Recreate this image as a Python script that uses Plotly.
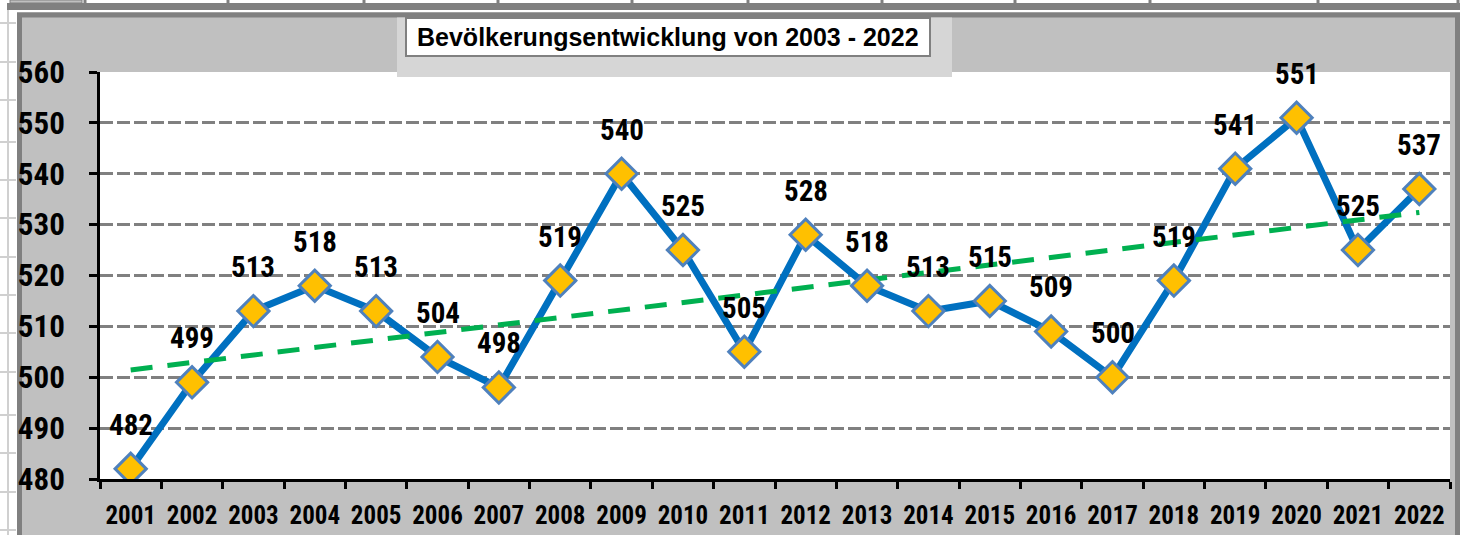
import numpy as np
import plotly.graph_objects as go

years = [str(y) for y in range(2001, 2023)]
population = [482, 499, 513, 518, 513, 504, 498, 519, 540, 525, 505,
              528, 518, 513, 515, 509, 500, 519, 541, 551, 525, 537]
y_ticks = [480, 490, 500, 510, 520, 530, 540, 550, 560]
title_text = "Bevölkerungsentwicklung von 2003 - 2022"

# linear trendline (as the spreadsheet's linear trend)
idx = np.arange(len(population))
slope, intercept = np.polyfit(idx, population, 1)
trend = (slope * idx + intercept).tolist()

W, H = 1473, 535
ML, MR, MT, MB = 100, 23, 72, 56
PW, PH = W - ML - MR, H - MT - MB


def px(x):
    return (x - ML) / PW


def py(y):
    return (H - MB - y) / PH


NARROW = "Liberation Sans Narrow, Arial Narrow, Roboto Condensed, Liberation Sans, Arial, sans-serif"
REG = "Liberation Sans, Arial, sans-serif"

fig = go.Figure()
fig.add_trace(go.Scatter(x=years, y=population, mode="lines",
                         line=dict(color="#0070C0", width=7),
                         hoverinfo="skip", showlegend=False))
fig.add_trace(go.Scatter(x=years, y=trend, mode="lines",
                         line=dict(color="#00B050", width=5, dash="22px,15px"),
                         hoverinfo="skip", showlegend=False))
fig.add_trace(go.Scatter(x=years, y=population, mode="markers",
                         marker=dict(symbol="diamond", size=24, color="#FFC000",
                                     line=dict(color="#4F81BD", width=3)),
                         showlegend=False))

for i, v in enumerate(population):
    fig.add_annotation(x=i, y=v, xref="x", yref="y", text=str(v), showarrow=False, yshift=44,
                       font=dict(family=NARROW, size=29, color="black", weight="bold"))

shapes = []
# white surroundings (spreadsheet)
shapes.append(dict(type="rect", xref="paper", yref="paper", x0=px(0), x1=px(W), y0=py(0), y1=py(12),
                   fillcolor="white", line=dict(width=0), layer="below"))
shapes.append(dict(type="rect", xref="paper", yref="paper", x0=px(0), x1=px(17), y0=py(0), y1=py(H),
                   fillcolor="white", line=dict(width=0), layer="below"))
shapes.append(dict(type="rect", xref="paper", yref="paper", x0=px(1460), x1=px(W), y0=py(0), y1=py(H),
                   fillcolor="white", line=dict(width=0), layer="below"))
# spreadsheet cell lines on the left
for gy in [23, 62, 100, 142, 180, 218, 257, 295, 333, 372, 415, 453, 492, 530]:
    shapes.append(dict(type="line", xref="paper", yref="paper", x0=px(0), x1=px(16), y0=py(gy), y1=py(gy),
                       line=dict(color="#D0D0D0", width=2), layer="below"))
shapes.append(dict(type="line", xref="paper", yref="paper", x0=px(8), x1=px(8), y0=py(10), y1=py(H),
                   line=dict(color="#D0D0D0", width=2), layer="below"))
# top strip
shapes.append(dict(type="rect", xref="paper", yref="paper", x0=px(7), x1=px(1460), y0=py(3), y1=py(10),
                   fillcolor="#808080", line=dict(width=0), layer="below"))
shapes.append(dict(type="rect", xref="paper", yref="paper", x0=px(10), x1=px(82), y0=py(0), y1=py(3),
                   fillcolor="#C0C0C0", line=dict(color="#808080", width=1), layer="below"))
for gx in [85, 228, 364, 498, 632, 748, 882, 1015, 1150, 1318, 1458]:
    shapes.append(dict(type="line", xref="paper", yref="paper", x0=px(gx), x1=px(gx), y0=py(0), y1=py(3),
                       line=dict(color="#808080", width=3), layer="below"))
# chart frame
shapes.append(dict(type="rect", xref="paper", yref="paper", x0=px(19.5), x1=px(1457.5), y0=py(15), y1=py(H + 20),
                   fillcolor="rgba(0,0,0,0)", line=dict(color="#808080", width=5), layer="below"))
# title box
shapes.append(dict(type="rect", xref="paper", yref="paper", x0=px(397), x1=px(952), y0=py(17.5), y1=py(77),
                   fillcolor="#D6D6D6", line=dict(width=0), layer="above"))
shapes.append(dict(type="rect", xref="paper", yref="paper", x0=px(406), x1=px(930), y0=py(18), y1=py(56),
                   fillcolor="white", line=dict(color="#808080", width=2), layer="above"))

fig.add_annotation(xref="paper", yref="paper", x=px(668), y=py(37), text=title_text, showarrow=False,
                   xanchor="center", yanchor="middle",
                   font=dict(family=REG, size=25, color="black", weight="bold"))

fig.update_layout(
    width=W, height=H,
    margin=dict(l=ML, r=MR, t=MT, b=MB, pad=0, autoexpand=False),
    paper_bgcolor="#C0C0C0", plot_bgcolor="white",
    shapes=shapes, showlegend=False,
    xaxis=dict(type="category", categoryorder="array", categoryarray=years,
               range=[-0.5, len(years) - 0.5], showgrid=False, zeroline=False,
               showline=True, linecolor="black", linewidth=3, automargin=False, tickangle=0,
               ticks="outside", tickson="boundaries", ticklen=7, tickwidth=3, tickcolor="black",
               ticklabelstandoff=12,
               tickfont=dict(family=NARROW, size=25, color="black", weight="bold")),
    yaxis=dict(range=[480, 560], tickmode="array", tickvals=y_ticks, ticktext=[str(t) for t in y_ticks],
               showgrid=True, gridcolor="#808080", gridwidth=3, griddash="13px,4px", automargin=False,
               zeroline=False, showline=True, linecolor="black", linewidth=3,
               ticks="outside", ticklen=8, tickwidth=3, tickcolor="black",
               ticklabelstandoff=18,
               tickfont=dict(family=NARROW, size=31, color="black", weight="bold")),
)

fig.write_html("out.html", config={"displayModeBar": False},
               post_script="document.body.style.margin='0';document.body.style.padding='0';"
                           "document.body.style.overflow='hidden';")
